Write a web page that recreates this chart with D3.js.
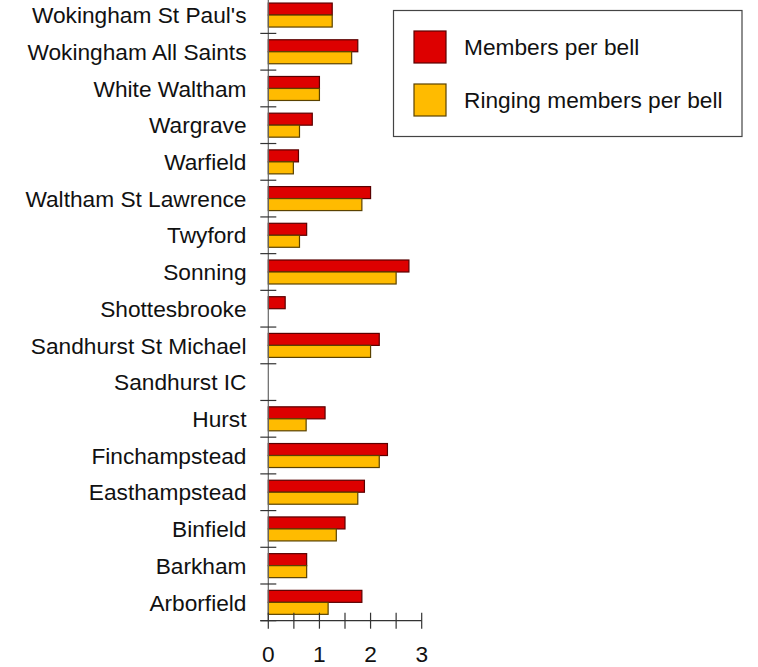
<!DOCTYPE html>
<html>
<head>
<meta charset="utf-8">
<script src="https://cdn.jsdelivr.net/npm/d3@7"></script>
<style>
  body { margin: 0; background: #fff; }
  svg { display: block; font-family: "Liberation Sans", Arial, sans-serif; }
</style>
</head>
<body>
<div id="chart"></div>
<script>
// towers, top to bottom as drawn
const towers = [
  "Wokingham St Paul's", 'Wokingham All Saints', 'White Waltham', 'Wargrave',
  'Warfield', 'Waltham St Lawrence', 'Twyford', 'Sonning', 'Shottesbrooke',
  'Sandhurst St Michael', 'Sandhurst IC', 'Hurst', 'Finchampstead',
  'Easthampstead', 'Binfield', 'Barkham', 'Arborfield'
];
const membersPerBell = [1.25, 1.75, 1.0, 0.86, 0.59, 2.0, 0.75, 2.75, 0.33, 2.17, 0, 1.11, 2.33, 1.88, 1.5, 0.75, 1.83];
const ringingPerBell = [1.25, 1.63, 1.0, 0.61, 0.49, 1.83, 0.61, 2.5, 0, 2.0, 0, 0.74, 2.17, 1.75, 1.33, 0.75, 1.17];
const seriesNames = ['Members per bell', 'Ringing members per bell'];
const seriesFill = ['#dd0000', '#ffbb00'];
const seriesStroke = ['#5a0000', '#5a4200'];
const xTicks = [0, 0.5, 1, 1.5, 2, 2.5, 3];
const xLabels = [0, 1, 2, 3];

const width = 758, height = 667;
const fontSize = 22.7;
const svg = d3.select('#chart').append('svg')
  .attr('width', width).attr('height', height);

const x = d3.scaleLinear().domain([0, 3]).range([268.3, 421.7]);
const y = d3.scaleBand().domain(towers).range([-3.3, 620.7]).padding(0);
const ySub = d3.scaleBand().domain(seriesNames)
  .range([0, y.bandwidth()]).paddingInner(0).paddingOuter(0.53);

const rows = towers.map((t, i) => ({ tower: t, values: [membersPerBell[i], ringingPerBell[i]] }));

// bars
const row = svg.append('g').selectAll('g').data(rows).join('g')
  .attr('transform', d => `translate(0,${y(d.tower)})`);

row.selectAll('rect')
  .data(d => d.values.map((v, k) => ({ v, k })).filter(e => e.v > 0))
  .join('rect')
  .attr('x', x(0))
  .attr('y', e => ySub(seriesNames[e.k]))
  .attr('width', e => x(e.v) - x(0))
  .attr('height', ySub.bandwidth())
  .attr('fill', e => seriesFill[e.k])
  .attr('stroke', e => seriesStroke[e.k])
  .attr('stroke-width', 1.2);

// y axis
const axisColor = '#333';
svg.append('line')
  .attr('x1', x(0)).attr('x2', x(0))
  .attr('y1', 0).attr('y2', y.range()[1])
  .attr('stroke', '#666').attr('stroke-width', 1.2);

const yBounds = towers.map(t => y(t)).concat([y.range()[1]]);
svg.append('g').selectAll('line').data(yBounds).join('line')
  .attr('x1', x(0) - 8).attr('x2', x(0) + 8)
  .attr('y1', d => d).attr('y2', d => d)
  .attr('stroke', axisColor).attr('stroke-width', 1.2);

svg.append('g').selectAll('text').data(towers).join('text')
  .attr('x', 246.5)
  .attr('y', t => y(t) + y.bandwidth() / 2)
  .attr('dy', '0.36em')
  .attr('text-anchor', 'end')
  .attr('font-size', fontSize)
  .attr('fill', '#111')
  .text(t => t);

// x axis
const axisY = y.range()[1];
svg.append('line')
  .attr('x1', x(0) - 8).attr('x2', x(3))
  .attr('y1', axisY).attr('y2', axisY)
  .attr('stroke', axisColor).attr('stroke-width', 1.2);

svg.append('g').selectAll('line').data(xTicks).join('line')
  .attr('x1', d => x(d)).attr('x2', d => x(d))
  .attr('y1', axisY - 8).attr('y2', axisY + 8)
  .attr('stroke', axisColor).attr('stroke-width', 1.2);

svg.append('g').selectAll('text').data(xLabels).join('text')
  .attr('x', d => x(d))
  .attr('y', 662)
  .attr('text-anchor', 'middle')
  .attr('font-size', fontSize)
  .attr('fill', '#111')
  .text(d => d);

// legend
const legend = svg.append('g');
legend.append('rect')
  .attr('x', 393.5).attr('y', 10.5)
  .attr('width', 348.5).attr('height', 126)
  .attr('fill', '#fff').attr('stroke', '#444').attr('stroke-width', 1.2);

const item = legend.selectAll('g').data(seriesNames).join('g')
  .attr('transform', (d, i) => `translate(414,${31 + i * 53})`);
item.append('rect')
  .attr('width', 32).attr('height', 32)
  .attr('fill', (d, i) => seriesFill[i])
  .attr('stroke', (d, i) => seriesStroke[i])
  .attr('stroke-width', 1.2);
item.append('text')
  .attr('x', 50).attr('y', 16).attr('dy', '0.35em')
  .attr('font-size', fontSize)
  .attr('fill', '#111')
  .text(d => d);
</script>
</body>
</html>
